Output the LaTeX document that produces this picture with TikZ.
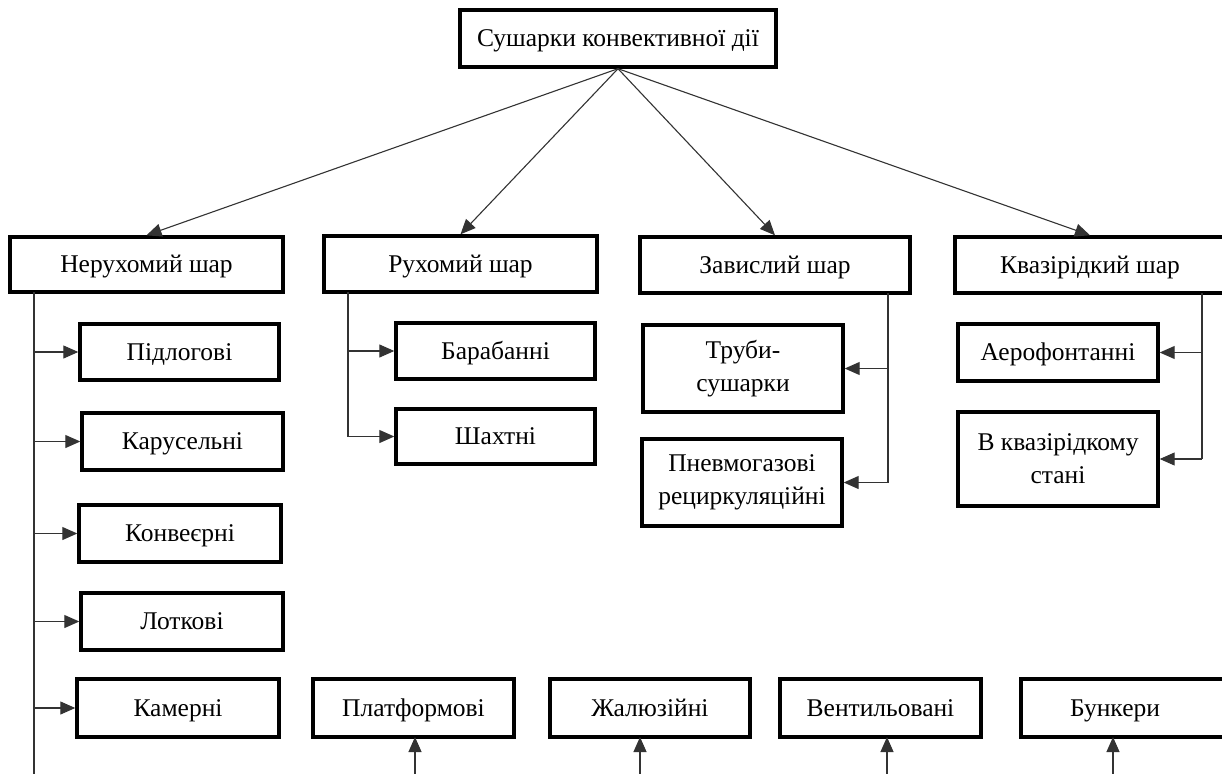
\documentclass[tikz,border=0pt]{standalone}
\usepackage{fontspec}
\setmainfont{Liberation Serif}
\usetikzlibrary{arrows.meta}
\tikzset{
  box/.style={draw=black, line width=3.4pt, rectangle, inner sep=2pt, align=center, font=\fontsize{25.5}{33}\selectfont},
  one/.style={text height=21pt, text depth=5pt},
  lbl/.style={inner sep=0pt, text height=21pt, text depth=5pt, font=\fontsize{25.5}{33}\selectfont},
  conn/.style={draw=black!80, line width=1.1pt},
  arr/.style={conn, -{Triangle[length=15pt,width=13pt]}},
}
\begin{document}
\begin{tikzpicture}[x=1pt,y=-1pt]
\useasboundingbox (0,0) rectangle (1222,773);
% top
\node[box, one, minimum width=316pt, minimum height=57pt] (top) at (618,38.5) {Сушарки конвективної дії};
% level 1
\node[box, one, minimum width=273pt, minimum height=55pt] (ner) at (146.5,264.5) {Нерухомий шар};
\node[box, one, minimum width=273pt, minimum height=56pt] (ruh) at (460.5,264) {Рухомий шар};
\node[box, one, minimum width=270pt, minimum height=56pt] (zav) at (775,265) {Завислий шар};
\node[box, one, minimum width=270pt, minimum height=56pt] (kva) at (1090,265) {Квазірідкий шар};
% left column
\node[box, one, minimum width=199pt, minimum height=56pt] (pid) at (179.5,352) {Підлогові};
\node[box, one, minimum width=201pt, minimum height=57pt] (kar) at (182.5,441.5) {Карусельні};
\node[box, one, minimum width=202pt, minimum height=57pt] (kon) at (180,533.5) {Конвеєрні};
\node[box, one, minimum width=202pt, minimum height=57pt] (lot) at (182,621.5) {Лоткові};
\node[box, one, minimum width=202pt, minimum height=58pt] (kam) at (178,708) {Камерні};
% bottom row
\node[box, one, minimum width=201pt, minimum height=58pt] (plat) at (413.5,708) {Платформові};
\node[box, one, minimum width=200pt, minimum height=58pt] (zhal) at (650,708) {Жалюзійні};
\node[box, one, minimum width=201pt, minimum height=58pt] (vent) at (880.5,708) {Вентильовані};
\node[box, one, minimum width=204pt, minimum height=58pt] (bunk) at (1123,708) {};
\node[lbl] (bunkt) at (1115,708) {Бункери};
% second column
\node[box, one, minimum width=199pt, minimum height=56pt] (bar) at (495.5,351) {Барабанні};
\node[box, one, minimum width=199pt, minimum height=55pt] (shakh) at (495.5,436.5) {Шахтні};
% third column
\node[box, minimum width=200pt, minimum height=87pt] (trub) at (743,368.5) {Труби-\\сушарки};
\node[box, minimum width=200pt, minimum height=87pt] (pnev) at (742,482.5) {Пневмогазові\\рециркуляційні};
% fourth column
\node[box, one, minimum width=200pt, minimum height=57pt] (aero) at (1058,352.5) {Аерофонтанні};
\node[box, minimum width=200pt, minimum height=94pt] (vkv) at (1058,459) {В квазірідкому\\стані};
% top arrows
\draw[arr] (top.south) -- (ner.north);
\draw[arr] (top.south) -- (ruh.north);
\draw[arr] (top.south) -- (zav.north);
\draw[arr] (top.south) -- (kva.north);
% trunk coordinates
\coordinate (t1) at (34,292);
\coordinate (t1e) at (34,776);
\coordinate (t2) at (348,292);
\coordinate (t3) at (888,293);
\coordinate (t4) at (1202,293);
\coordinate (bot) at (0,776);
% left trunk
\draw[conn] (t1) -- (t1e);
\foreach \n in {pid,kar,kon,lot,kam}{
  \draw[arr] (t1 |- \n.west) -- (\n.west);
}
% second trunk
\draw[conn] (t2) -- (t2 |- shakh.west);
\draw[arr] (t2 |- shakh.west) -- (shakh.west);
\draw[arr] (t2 |- bar.west) -- (bar.west);
% third trunk
\draw[conn] (t3) -- (t3 |- pnev.east);
\draw[arr] (t3 |- trub.east) -- (trub.east);
\draw[arr] (t3 |- pnev.east) -- (pnev.east);
% fourth trunk
\draw[conn] (t4) -- (t4 |- vkv.east);
\draw[arr] (t4 |- aero.east) -- (aero.east);
\draw[arr] (t4 |- vkv.east) -- (vkv.east);
% bottom arrows
\coordinate (b1) at (415,737);
\coordinate (b2) at (640,737);
\coordinate (b3) at (887,737);
\coordinate (b4) at (1113,737);
\draw[arr] (b1 |- bot) -- (b1);
\draw[arr] (b2 |- bot) -- (b2);
\draw[arr] (b3 |- bot) -- (b3);
\draw[arr] (b4 |- bot) -- (b4);
\end{tikzpicture}
\end{document}
